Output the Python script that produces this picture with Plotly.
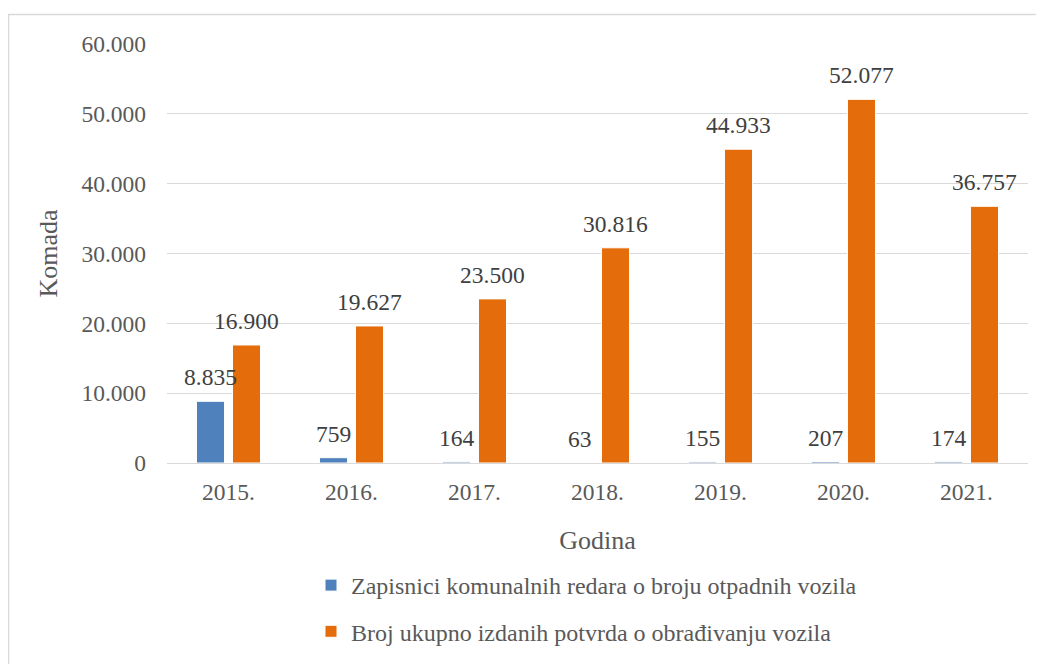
import plotly.graph_objects as go

years = ["2015.", "2016.", "2017.", "2018.", "2019.", "2020.", "2021."]
zapisnici = [8835, 759, 164, 63, 155, 207, 174]
potvrde = [16900, 19627, 23500, 30816, 44933, 52077, 36757]
name_zap = "Zapisnici komunalnih redara o broju otpadnih vozila"
name_pot = "Broj ukupno izdanih potvrda o obrađivanju vozila"
y_ticks = [0, 10000, 20000, 30000, 40000, 50000, 60000]

FONT = "Liberation Serif"
TXT = "#595959"
LBL = "#404040"
FS = 23.5
# page body has an 8px margin, so the figure is drawn 8px smaller
W, H = 1036, 656
L, R, T, B = 159, 16, 36, 201
pw, ph = W - L - R, H - T - B


def fmt(v):
    return f"{v:,}".replace(",", ".")


def px_x(x):
    return (x - L) / pw


def px_y(y):
    return (H - B - y) / ph


fig = go.Figure()
fig.add_trace(go.Bar(
    x=years, y=zapisnici, name=name_zap, legendgroup="a",
    marker=dict(color="#4F81BD", line=dict(color="white", width=1)),
))
fig.add_trace(go.Bar(
    x=years, y=potvrde, name=name_pot, legendgroup="b",
    marker=dict(color="#E46C0A", line=dict(color="white", width=1)),
))

annotations = []
for series, shift in ((zapisnici, -18), (potvrde, 18)):
    # category axis: annotations take the category's serial number
    for idx, v in enumerate(series):
        annotations.append(dict(
            x=idx, y=v, xref="x", yref="y", text=fmt(v), showarrow=False,
            xanchor="center", yanchor="bottom", xshift=shift, yshift=9,
            font=dict(family=FONT, size=FS, color=LBL),
        ))

fig.update_layout(
    width=W, height=H,
    margin=dict(l=L, r=R, t=T, b=B, autoexpand=False),
    paper_bgcolor="white", plot_bgcolor="white",
    separators=",.",
    barmode="group", bargap=0.415, bargroupgap=0.22,
    font=dict(family=FONT, size=FS, color=TXT),
    showlegend=True,
    legend=dict(
        orientation="v", x=px_x(303), xanchor="left",
        y=px_y(555), yanchor="top",
        font=dict(family=FONT, size=24, color=TXT),
        tracegroupgap=12, bgcolor="rgba(0,0,0,0)",
    ),
    xaxis=dict(
        type="category", categoryorder="array", categoryarray=years,
        showgrid=False, showline=True, linecolor="#d9d9d9", linewidth=1,
        ticks="", ticklabelstandoff=8,
        tickfont=dict(family=FONT, size=FS, color=TXT),
        title=dict(text="Godina", font=dict(family=FONT, size=26, color=TXT), standoff=26),
    ),
    yaxis=dict(
        range=[0, 60000], tickvals=y_ticks, tickformat=",",
        showgrid=True, gridcolor="#d9d9d9", gridwidth=1,
        zeroline=False, showline=False, ticks="", ticklabelstandoff=20,
        tickfont=dict(family=FONT, size=FS, color=TXT),
        title=dict(text="Komada", font=dict(family=FONT, size=26, color=TXT), standoff=16),
    ),
    annotations=annotations,
    shapes=[dict(
        type="rect", xref="paper", yref="paper",
        x0=px_x(0.5), x1=px_x(W + 20), y0=px_y(H + 20), y1=px_y(6.5),
        line=dict(color="#d9d9d9", width=1.5), fillcolor="rgba(0,0,0,0)",
        layer="below",
    )],
)

fig.write_html("out.html")
